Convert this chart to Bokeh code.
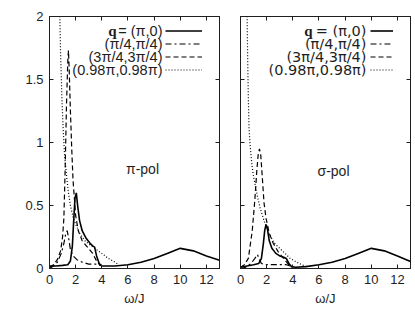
import math
from bokeh.plotting import figure
from bokeh.layouts import row
from bokeh.models import (Legend, LegendItem, Label, LinearAxis, FixedTicker,
                          CustomJSTickFormatter)
from bokeh.core.properties import value
from bokeh.embed import file_html
from bokeh.resources import INLINE

# ---------------- data ----------------
x_ticks = [0, 2, 4, 6, 8, 10, 12]
y_ticks = [0, 0.5, 1, 1.5, 2]
y_tick_labels = ["0", "0.5", "1", "1.5", "2"]

series_labels = ["= (π,0)", "(π/4,π/4)", "(3π/4,3π/4)", "(0.98π,0.98π)"]

# pi-polarisation (left panel)
pi_solid_w = [0, 0.5, 1.0, 1.4, 1.6, 1.75, 1.85, 1.95, 2.05, 2.15, 2.3, 2.5, 2.8, 3.1, 3.3, 3.45,
              3.6, 3.8, 4.0, 5, 6, 7, 8, 9, 10, 11, 12, 13]
pi_solid_i = [0.02, 0.02, 0.025, 0.03, 0.06, 0.18, 0.38, 0.56, 0.6, 0.5, 0.38, 0.3, 0.24, 0.2, 0.18, 0.17,
              0.1, 0.04, 0.02, 0.02, 0.03, 0.05, 0.08, 0.12, 0.16, 0.14, 0.1, 0.065]
pi_dashdot_w = [0, 0.3, 0.6, 0.9, 1.1, 1.25, 1.35, 1.45, 1.6, 1.8, 2.1, 2.5, 3.0, 3.5, 3.8, 4.0]
pi_dashdot_i = [0.0, 0.02, 0.05, 0.12, 0.2, 0.28, 0.3, 0.25, 0.15, 0.1, 0.07, 0.05, 0.035, 0.035, 0.03, 0.02]
pi_dash_w = [0, 0.3, 0.6, 0.85, 1.0, 1.1, 1.2, 1.3, 1.4, 1.45, 1.5, 1.6, 1.7, 1.8, 2.0, 2.2, 2.5,
             2.9, 3.3, 3.6, 3.9]
pi_dash_i = [0.01, 0.03, 0.07, 0.14, 0.25, 0.4, 0.8, 1.3, 1.65, 1.73, 1.6, 1.25, 0.95, 0.7, 0.42, 0.3,
             0.22, 0.17, 0.12, 0.06, 0.02]
pi_dot_w = [0.78, 0.85, 0.95, 1.05, 1.15, 1.3, 1.45, 1.6, 1.8, 2.0, 2.3, 2.7, 3.2, 3.6, 4.0, 4.5, 5.0, 5.3]
pi_dot_i = [2.05, 1.7, 1.35, 1.1, 0.9, 0.74, 0.6, 0.5, 0.41, 0.35, 0.28, 0.22, 0.18, 0.15, 0.12, 0.08,
            0.05, 0.03]

# sigma-polarisation (right panel)
sg_solid_w = [0, 0.5, 1.0, 1.4, 1.6, 1.75, 1.85, 1.95, 2.05, 2.2, 2.4, 2.7, 3.0, 3.3, 3.5, 3.7, 3.9,
              4.2, 5, 6, 7, 8, 9, 10, 11, 12, 13]
sg_solid_i = [0.01, 0.02, 0.03, 0.04, 0.08, 0.2, 0.3, 0.35, 0.32, 0.22, 0.16, 0.12, 0.1, 0.09, 0.08,
              0.04, 0.015, 0.01, 0.015, 0.03, 0.05, 0.08, 0.12, 0.16, 0.14, 0.1, 0.055]
sg_dashdot_w = [0, 0.4, 0.8, 1.1, 1.3, 1.45, 1.6, 2.0, 2.5, 3.0, 3.5, 3.8, 4.0]
sg_dashdot_i = [0.0, 0.01, 0.04, 0.08, 0.11, 0.07, 0.04, 0.03, 0.03, 0.03, 0.03, 0.02, 0.01]
sg_dash_w = [0, 0.3, 0.6, 0.9, 1.1, 1.25, 1.35, 1.45, 1.55, 1.65, 1.8, 1.95, 2.2, 2.5, 2.9, 3.3, 3.6,
             3.9]
sg_dash_i = [0.01, 0.03, 0.08, 0.3, 0.55, 0.78, 0.9, 0.95, 0.9, 0.75, 0.52, 0.4, 0.28, 0.2, 0.13, 0.08,
             0.04, 0.01]
sg_dot_w = [0.5, 0.55, 0.6, 0.65, 0.72, 0.8, 0.9, 1.0, 1.15, 1.3, 1.5, 1.8, 2.15, 2.6, 3.2, 3.8, 4.3,
            4.8, 5.0]
sg_dot_i = [2.05, 1.65, 1.35, 1.12, 1.0, 0.9, 0.8, 0.73, 0.65, 0.57, 0.48, 0.38, 0.28, 0.2, 0.14, 0.08,
            0.05, 0.025, 0.02]

# ---------------- styling ----------------
INK = "#1e1e1e"
TICK_FONT = "Liberation Sans"
dashes = ["solid", "6 3 2 3", "5 3", "1 2"]
widths = [1.6, 1.2, 1.2, 1.2]
BLANK = CustomJSTickFormatter(code="return ''")
PX_X = 170 / 13.0   # pixels per x unit in the frame
PX_Y = 252 / 2.0    # pixels per y unit in the frame


def make_panel(curves, min_left, min_right, legend_x, glyph_w, text_x, text_font, text_size,
               q_x, pol_text, pol_y, ylabels):
    p = figure(frame_width=170, frame_height=252, x_range=(0, 13), y_range=(0, 2),
               min_border_left=min_left, min_border_right=min_right, min_border_top=16,
               min_border_bottom=40, output_backend="svg", toolbar_location=None)
    p.xgrid.visible = False
    p.ygrid.visible = False
    p.outline_line_color = INK
    p.outline_line_width = 1
    p.background_fill_color = "white"
    p.border_fill_color = "white"

    for ax in (p.xaxis[0], p.yaxis[0]):
        ax.axis_line_color = INK
        ax.major_tick_line_color = INK
        ax.major_tick_in = 4
        ax.major_tick_out = 0
        ax.minor_tick_line_color = None
        ax.major_label_text_font = TICK_FONT
        ax.major_label_text_font_size = "13px"
        ax.major_label_text_color = INK
        ax.major_label_standoff = 6
    p.xaxis[0].ticker = FixedTicker(ticks=x_ticks)
    p.xaxis[0].major_label_overrides = {t: str(t) for t in x_ticks}
    p.xaxis[0].axis_label = "ω/J"
    p.xaxis[0].axis_label_text_font = TICK_FONT
    p.xaxis[0].axis_label_text_font_style = "normal"
    p.xaxis[0].axis_label_text_font_size = "13px"
    p.xaxis[0].axis_label_text_color = INK
    p.xaxis[0].axis_label_standoff = 4
    p.yaxis[0].ticker = FixedTicker(ticks=y_ticks)
    if ylabels:
        p.yaxis[0].major_label_overrides = {t: s for t, s in zip(y_ticks, y_tick_labels)}
    else:
        p.yaxis[0].formatter = BLANK
        p.yaxis[0].major_label_standoff = 0

    top = LinearAxis(ticker=FixedTicker(ticks=x_ticks), formatter=BLANK,
                     major_label_standoff=0, major_tick_in=4, major_tick_out=0,
                     minor_tick_line_color=None, axis_line_color=INK, major_tick_line_color=INK)
    right = LinearAxis(ticker=FixedTicker(ticks=y_ticks), formatter=BLANK,
                       major_label_standoff=0, major_tick_in=4, major_tick_out=0,
                       minor_tick_line_color=None, axis_line_color=INK, major_tick_line_color=INK)
    p.add_layout(top, "above")
    p.add_layout(right, "right")

    renderers = []
    for (w, i), d, lw in zip(curves, dashes, widths):
        r = p.line(w, i, line_color="black", line_width=lw, line_dash=d)
        renderers.append(r)

    leg = Legend(items=[LegendItem(label=value(""), renderers=[r]) for r in renderers],
                 location=(legend_x, 192), glyph_width=glyph_w, glyph_height=13, label_height=13,
                 label_width=0, label_standoff=0, spacing=0, padding=0, margin=0,
                 border_line_alpha=0, background_fill_alpha=0, label_text_font_size="8px")
    p.add_layout(leg)

    ys = [238, 225, 212, 199]
    for lab, yy in zip(series_labels, ys):
        p.add_layout(Label(x=text_x / PX_X, y=yy / PX_Y, text=lab,
                           text_font=text_font, text_font_size=text_size, text_color=INK,
                           text_align="right", text_baseline="middle"))
    p.add_layout(Label(x=q_x / PX_X, y=ys[0] / PX_Y, text="q",
                       text_font="Liberation Serif", text_font_style="bold", text_font_size="15px",
                       text_color=INK, text_align="right", text_baseline="middle"))
    p.add_layout(Label(x=93 / PX_X, y=pol_y / PX_Y, text=pol_text,
                       text_font=TICK_FONT, text_font_size="14px", text_color=INK,
                       text_align="center", text_baseline="middle"))
    return p


p1 = make_panel([(pi_solid_w, pi_solid_i), (pi_dashdot_w, pi_dashdot_i), (pi_dash_w, pi_dash_i),
                 (pi_dot_w, pi_dot_i)],
                49, 10, 116, 37, 113, "Liberation Sans", "14.5px", 67, "π-pol", 100, True)
p1.add_layout(Label(x=-38, y=136, x_units="screen", y_units="screen", text="Intensity [a.u.]",
                    angle=math.pi / 2, text_font=TICK_FONT, text_font_size="13px", text_color=INK,
                    text_align="center", text_baseline="middle"))

p2 = make_panel([(sg_solid_w, sg_solid_i), (sg_dashdot_w, sg_dashdot_i), (sg_dash_w, sg_dash_i),
                 (sg_dot_w, sg_dot_i)],
                11, 4, 130, 23, 126, "DejaVu Sans", "14.5px", 72, "σ-pol", 98, False)

layout = row(p1, p2)
open("out.html", "w").write(file_html(layout, INLINE))
